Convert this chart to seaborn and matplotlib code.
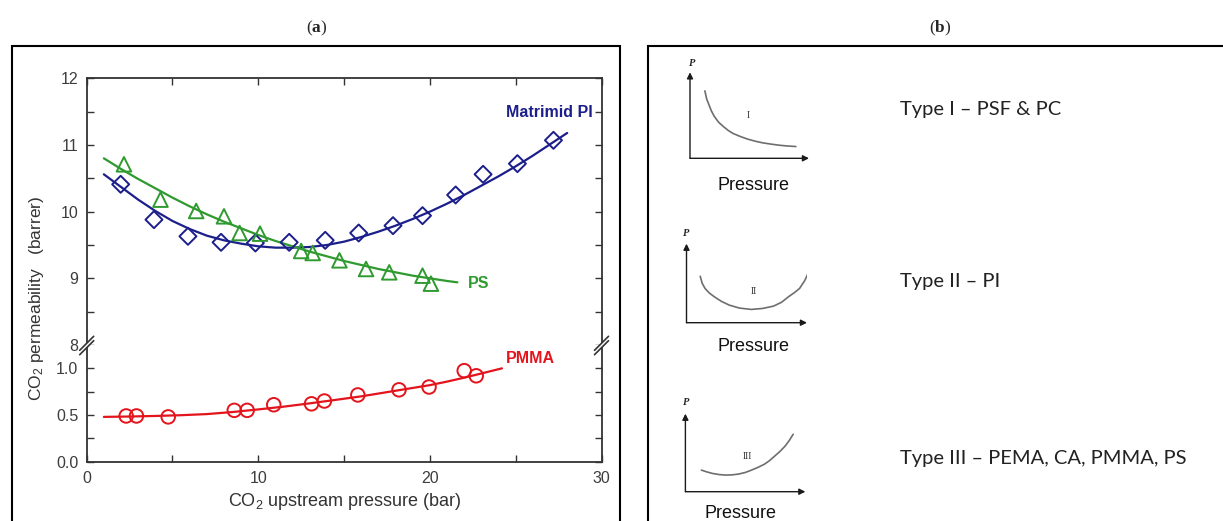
import numpy as np
import pandas as pd
import matplotlib
matplotlib.use("Agg")
import matplotlib.pyplot as plt
import seaborn as sns
from matplotlib.patches import Rectangle, Polygon
from matplotlib.lines import Line2D

# ---------------- data ----------------
pi_x = [1.98, 3.92, 5.9, 7.83, 9.83, 11.8, 13.9, 15.85, 17.85, 19.57, 21.5, 23.1, 25.1, 27.2]
pi_y = [10.41, 9.88, 9.63, 9.54, 9.53, 9.54, 9.57, 9.68, 9.79, 9.94, 10.25, 10.56, 10.72, 11.07]
ps_x = [2.17, 4.3, 6.38, 8.0, 8.91, 10.1, 12.5, 13.17, 14.73, 16.28, 17.63, 19.57, 20.06]
ps_y = [10.71, 10.18, 10.01, 9.93, 9.68, 9.67, 9.41, 9.38, 9.27, 9.14, 9.09, 9.04, 8.92]
pmma_x = [2.3, 2.9, 4.75, 8.6, 9.35, 10.9, 13.1, 13.85, 15.8, 18.2, 19.95, 22.0, 22.7]
pmma_y = [0.49, 0.49, 0.48, 0.55, 0.55, 0.61, 0.62, 0.65, 0.715, 0.77, 0.80, 0.975, 0.92]

pi_fit_x = [1, 2, 3, 4, 5, 6, 7, 8, 9, 10, 11, 12, 13, 14, 15, 16, 17, 18, 19, 20,
            21, 22, 23, 24, 25, 26, 27, 28]
pi_fit_y = [10.56, 10.37, 10.18, 10.01, 9.86, 9.74, 9.64, 9.57, 9.52, 9.48, 9.46, 9.46, 9.47, 9.50,
            9.55, 9.62, 9.70, 9.79, 9.89, 10.00, 10.12, 10.25, 10.39, 10.53, 10.68, 10.84, 11.01, 11.18]
ps_fit_x = [1, 2, 3, 4, 5, 6, 7, 8, 9, 10, 11, 12, 13, 14, 15, 16, 17, 18, 19, 20, 21, 21.6]
ps_fit_y = [10.80, 10.64, 10.49, 10.35, 10.21, 10.08, 9.96, 9.85, 9.75, 9.65, 9.56, 9.48, 9.40,
            9.33, 9.26, 9.20, 9.14, 9.09, 9.04, 9.00, 8.96, 8.94]
pmma_fit_x = [1, 2.5, 4, 5.5, 7, 8.5, 10, 11.5, 13, 14.5, 16, 17, 18, 19, 20, 21, 22, 23, 24.2]
pmma_fit_y = [0.48, 0.484, 0.49, 0.498, 0.51, 0.532, 0.56, 0.59, 0.625, 0.662, 0.70, 0.73, 0.76,
              0.79, 0.82, 0.858, 0.90, 0.945, 1.0]

x_ticks = [0, 5, 10, 15, 20, 25, 30]
x_tick_labels = ["0", "", "10", "", "20", "", "30"]
upper_ticks = [8, 8.5, 9, 9.5, 10, 10.5, 11, 11.5, 12]
upper_labels = ["8", "", "9", "", "10", "", "11", "", "12"]
lower_ticks = [0, 0.25, 0.5, 0.75, 1.0]
lower_labels = ["0.0", "", "0.5", "", "1.0"]

# schematic curves of panel (b), in unit box coordinates
type1_curve_x = [0.125, 0.14, 0.16, 0.18, 0.203, 0.24, 0.28, 0.32, 0.36, 0.42, 0.48, 0.545, 0.61,
                 0.68, 0.75, 0.82, 0.89]
type1_curve_y = [0.784, 0.69, 0.62, 0.55, 0.49, 0.42, 0.37, 0.325, 0.29, 0.255, 0.225, 0.20, 0.18,
                 0.165, 0.152, 0.143, 0.137]
type2_curve_x = [0.114, 0.13, 0.154, 0.19, 0.231, 0.29, 0.354, 0.44, 0.538, 0.63, 0.723, 0.79, 0.846,
                 0.895, 0.938, 0.98, 1.015]
type2_curve_y = [0.588, 0.5, 0.433, 0.375, 0.328, 0.27, 0.223, 0.185, 0.168, 0.18, 0.21, 0.26, 0.328,
                 0.38, 0.433, 0.53, 0.643]
type3_curve_x = [0.133, 0.18, 0.226, 0.28, 0.334, 0.39, 0.443, 0.5, 0.551, 0.605, 0.659, 0.7, 0.737,
                 0.785, 0.83, 0.865, 0.898]
type3_curve_y = [0.277, 0.253, 0.234, 0.22, 0.213, 0.216, 0.226, 0.247, 0.277, 0.312, 0.353, 0.397,
                 0.447, 0.512, 0.583, 0.655, 0.736]
type_labels = ["Type I \u2013 PSF & PC", "Type II \u2013 PI", "Type III \u2013 PEMA, CA, PMMA, PS"]
numerals = ["I", "II", "III"]

# ---------------- style ----------------
sns.set_theme(style="ticks")
plt.rcParams['font.family'] = ['Liberation Sans', 'DejaVu Sans']
plt.rcParams['mathtext.fontset'] = 'custom'
plt.rcParams['mathtext.rm'] = 'Liberation Sans'
plt.rcParams['mathtext.it'] = 'Liberation Sans:italic'
plt.rcParams['mathtext.bf'] = 'Liberation Serif:bold'

navy = "#1c1f8a"
green = "#2f9a2f"
red = "#e3141c"
axc = "#333333"
tickc = "#3d3d3d"

W, H = 1223, 521
fig = plt.figure(figsize=(W / 100, H / 100), dpi=100)

def fx(x):
    return x / W

def fy(y):
    return 1 - y / H

L, R, T, M, B = 86.7, 601.5, 78.3, 345.0, 461.7
ax_top = fig.add_axes([fx(L), fy(M), (R - L) / W, (M - T) / H])
ax_bot = fig.add_axes([fx(L), fy(B), (R - L) / W, (B - M) / H])

# upper part: Matrimid PI and PS
sns.lineplot(x=pi_fit_x, y=pi_fit_y, ax=ax_top, color=navy, lw=1.6, sort=False, estimator=None)
sns.lineplot(x=ps_fit_x, y=ps_fit_y, ax=ax_top, color=green, lw=1.6, sort=False, estimator=None)
sns.scatterplot(x=pi_x, y=pi_y, ax=ax_top, marker='D', s=75, facecolor='none', edgecolor=navy, linewidth=1.4, zorder=3)
sns.scatterplot(x=ps_x, y=ps_y, ax=ax_top, marker='^', s=110, facecolor='none', edgecolor=green, linewidth=1.4, zorder=3)

# lower part: PMMA
sns.lineplot(x=pmma_fit_x, y=pmma_fit_y, ax=ax_bot, color=red, lw=1.6, sort=False, estimator=None)
sns.scatterplot(x=pmma_x, y=pmma_y, ax=ax_bot, marker='o', s=95, facecolor='none', edgecolor=red, linewidth=1.4, zorder=3)

for ax in (ax_top, ax_bot):
    ax.set_xlim(0, 30)
    ax.set_xlabel("")
    ax.set_ylabel("")
    for s in ax.spines.values():
        s.set_color(axc)
        s.set_linewidth(1.3)
    ax.tick_params(direction='in', length=5, width=1, color=axc, labelcolor=tickc,
                   labelsize=11.5, left=True, right=True, pad=6)

ax_top.set_ylim(8, 12)
ax_top.set_yticks(upper_ticks)
ax_top.set_yticklabels(upper_labels)
ax_top.set_xticks(x_ticks)
ax_top.tick_params(axis='x', top=True, bottom=False, labelbottom=False)
ax_top.spines['bottom'].set_visible(False)

ax_bot.set_ylim(0, 1.25)
ax_bot.set_yticks(lower_ticks)
ax_bot.set_yticklabels(lower_labels)
ax_bot.set_xticks(x_ticks)
ax_bot.set_xticklabels(x_tick_labels)
ax_bot.tick_params(axis='x', top=False, bottom=True, pad=7)
ax_bot.spines['top'].set_visible(False)

# series labels
ax_top.text(29.5, 11.49, "Matrimid PI", ha='right', va='center', color=navy, weight='bold', size=11.5)
ax_top.text(22.2, 8.92, "PS", ha='left', va='center', color=green, weight='bold', size=11.5)
ax_bot.text(24.45, 1.11, "PMMA", ha='left', va='center', color=red, weight='bold', size=11.5)

# axis labels
fig.text(fx(344.7), fy(502), "CO$_2$ upstream pressure (bar)", ha='center', va='center',
         size=13, color=axc)
fig.text(fx(37), fy(298), "CO$_2$ permeability   (barrer)", ha='center', va='center',
         rotation=90, size=12.5, color=axc)

# axis break marks
for xs in (L, R):
    gap = Polygon([(fx(xs - 6), fy(M + 4.5)), (fx(xs + 6), fy(M - 7.5)),
                   (fx(xs + 6), fy(M - 3.5)), (fx(xs - 6), fy(M + 8.5))],
                  closed=True, transform=fig.transFigure, facecolor='white', edgecolor='none', zorder=10)
    fig.add_artist(gap)
    for off in (-2.2, 2.2):
        fig.add_artist(Line2D([fx(xs - 7), fx(xs + 7)], [fy(M + 6.5 + off + 1), fy(M - 7.5 + off + 1)],
                              transform=fig.transFigure, color=axc, lw=1.2, zorder=11))

# panel boxes and titles
fig.add_artist(Rectangle((fx(12), fy(530)), (620 - 12) / W, (530 - 46) / H, transform=fig.transFigure,
                         fill=False, edgecolor='black', lw=1.5))
fig.add_artist(Rectangle((fx(648), fy(530)), (1235 - 648) / W, (530 - 46) / H, transform=fig.transFigure,
                         fill=False, edgecolor='black', lw=1.5))
fig.text(fx(317), fy(28), r"($\mathbf{a}$)", ha='center', va='center', size=12.5, family='Liberation Serif')
fig.text(fx(940), fy(28), r"($\mathbf{b}$)", ha='center', va='center', size=12.5, family='Liberation Serif')

# panel (b): schematic permeability types
mini_boxes = [(690, 158.3, 119, 86), (686.5, 322.7, 120.5, 79), (685.4, 491.7, 120, 78)]
curves = [(type1_curve_x, type1_curve_y), (type2_curve_x, type2_curve_y), (type3_curve_x, type3_curve_y)]
numeral_pos = [(747.8, 115), (753.4, 291.7), (747.8, 456.7)]
p_pos = [(692, 64), (686.5, 233), (686.5, 402.7)]
pressure_pos = [(753.4, 185), (753.4, 346.7), (740.4, 513.3)]
type_y = [110, 281.7, 458.3]

for i, (lx, by, w, h) in enumerate(mini_boxes):
    ax = fig.add_axes([fx(lx), fy(by), w / W, h / H])
    ax.set_xlim(0, 1)
    ax.set_ylim(0, 1)
    ax.axis('off')
    cx, cy = curves[i]
    sns.lineplot(x=cx, y=cy, ax=ax, color='#6e6e6e', lw=1.2, sort=False, estimator=None)
    ax.set_xlabel("")
    ax.set_ylabel("")
    ax.annotate('', xy=(0, 1.0), xytext=(0, 0), xycoords='axes fraction',
                arrowprops=dict(arrowstyle='-|>', color='#1a1a1a', lw=1.0, mutation_scale=9, shrinkA=0, shrinkB=0))
    ax.annotate('', xy=(1.0, 0), xytext=(0, 0), xycoords='axes fraction',
                arrowprops=dict(arrowstyle='-|>', color='#1a1a1a', lw=1.0, mutation_scale=9, shrinkA=0, shrinkB=0))
    fig.text(fx(numeral_pos[i][0]), fy(numeral_pos[i][1]), numerals[i], ha='center', va='center',
             size=7, family='Liberation Serif', color='#333333')
    fig.text(fx(p_pos[i][0]), fy(p_pos[i][1]), "P", ha='center', va='center', size=7.5,
             family='Liberation Serif', style='italic', weight='bold', color='#222222')
    fig.text(fx(pressure_pos[i][0]), fy(pressure_pos[i][1]), "Pressure", ha='center', va='center',
             size=13, color='#111111')
    fig.text(fx(900), fy(type_y[i]), type_labels[i], ha='left', va='center', size=14.5,
             family='Lato', color='#222222')

fig.savefig("out.png", dpi=100)
